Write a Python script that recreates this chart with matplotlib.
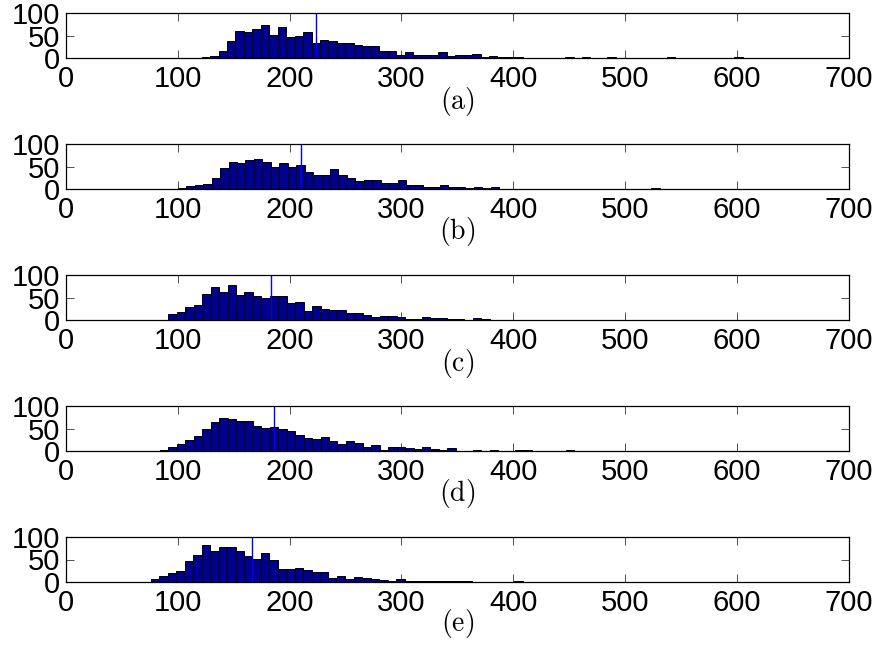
import numpy as np
import matplotlib
matplotlib.use("Agg")
import matplotlib.pyplot as plt

plt.rcParams['font.family'] = ['Liberation Sans', 'DejaVu Sans']
plt.rcParams['mathtext.fontset'] = 'cm'

bin_width = 7.56

def pad(lst, tail=None, n=80):
    arr = list(lst) + [0] * (n - len(lst))
    if tail:
        for k, v in tail.items():
            arr[k] = v
    return arr

counts_a = pad([2, 5, 17, 39, 60, 58, 65, 73, 52, 70, 47, 49, 58, 33, 40, 38, 33, 35, 29, 27,
                28, 16, 16, 7, 13, 7, 8, 7, 14, 4, 7, 7, 9, 2, 4, 2, 3, 2, 1, 1, 1],
               {43: 2, 45: 2, 48: 2, 51: 1, 55: 2, 59: 1, 63: 2, 74: 1})
start_a = 121.3
mean_a = 223.9

counts_b = pad([1, 2, 7, 8, 11, 24, 47, 61, 58, 64, 67, 59, 50, 57, 49, 53, 38, 31, 31, 44,
                31, 24, 18, 19, 19, 14, 13, 19, 10, 10, 4, 4, 8, 4, 5, 2, 5, 2, 5, 1],
               {42: 1, 47: 1, 57: 2, 65: 1, 73: 1, 79: 1})
start_b = 92.45
mean_b = 210.2

counts_c = pad([1, 13, 19, 30, 35, 58, 75, 63, 78, 56, 62, 53, 49, 54, 53, 38, 40, 21, 31, 25,
                24, 22, 17, 17, 12, 8, 10, 9, 7, 4, 4, 7, 5, 5, 2, 2, 1, 5, 2],
               {41: 1, 47: 1, 54: 1, 60: 1})
start_c = 84.0
mean_c = 183.7

counts_d = pad([2, 8, 16, 24, 33, 49, 65, 73, 71, 67, 66, 56, 51, 53, 50, 44, 36, 28, 27, 31,
                22, 16, 22, 17, 8, 13, 2, 8, 9, 6, 4, 8, 4, 3, 6, 1, 1, 2, 0, 2],
               {42: 2, 43: 2, 48: 2, 56: 1, 64: 1})
start_d = 84.0
mean_d = 186.0

counts_e = pad([6, 13, 19, 25, 46, 60, 82, 68, 77, 77, 68, 57, 51, 64, 48, 30, 30, 32, 26, 22,
                22, 9, 14, 7, 12, 8, 7, 4, 3, 6, 2, 2, 3, 2, 2, 3, 3, 3, 1],
               {43: 2, 47: 1, 48: 1, 54: 1, 64: 1})
start_e = 76.0
mean_e = 166.4

panels = [(counts_a, start_a, mean_a, '(a)'),
          (counts_b, start_b, mean_b, '(b)'),
          (counts_c, start_c, mean_c, '(c)'),
          (counts_d, start_d, mean_d, '(d)'),
          (counts_e, start_e, mean_e, '(e)')]

x_ticks = [0, 100, 200, 300, 400, 500, 600, 700]
y_ticks = [0, 50, 100]

fig = plt.figure(figsize=(8.79, 6.47), dpi=100)
W, H = 879.0, 647.0
left = 66 / W
width = (848.7 - 66) / W
tops = [13.3, 144.0, 275.3, 406.0, 537.0]
ax_h = 45.0
caption_y = [101, 232, 363, 494, 623]

for i, (counts, start, mean, label) in enumerate(panels):
    ax = fig.add_axes([left, 1 - (tops[i] + ax_h) / H, width, ax_h / H])
    counts = np.asarray(counts, dtype=float)
    lefts = start + bin_width * np.arange(len(counts))
    m = counts > 0
    ax.bar(lefts[m], counts[m], width=bin_width, align='edge',
           color=(0, 0, 0.55), edgecolor='black', linewidth=0.7, zorder=2)
    ax.axvline(mean, color=(0, 0, 1), linewidth=1.0, zorder=3)
    ax.set_xlim(0, 700)
    ax.set_ylim(0, 100)
    ax.set_xticks(x_ticks)
    ax.set_yticks(y_ticks)
    ax.tick_params(direction='in', length=6, width=0.6, top=True, right=True,
                   labelsize=21, color='#333333')
    ax.tick_params(axis='x', pad=5)
    ax.tick_params(axis='y', pad=4)
    for s in ax.spines.values():
        s.set_linewidth(0.9)
        s.set_zorder(4)
    fig.text(457.4 / W, 1 - caption_y[i] / H, r'$\mathrm{' + label + '}$',
             ha='center', va='center', fontsize=20)

fig.savefig('out.png', dpi=100)
